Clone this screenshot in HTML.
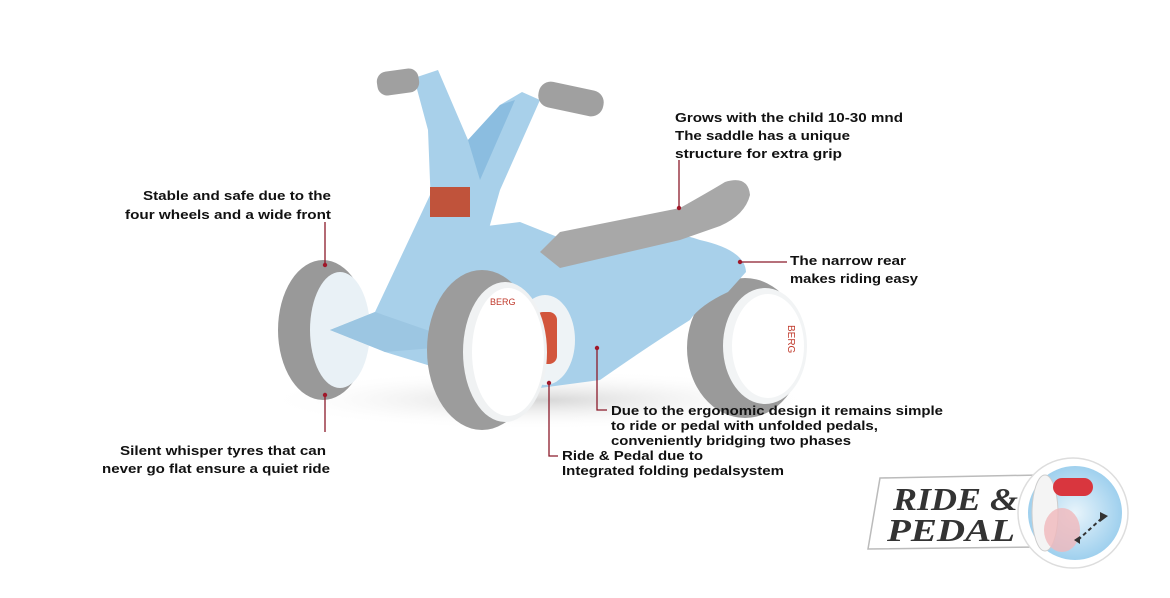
<!DOCTYPE html>
<html><head><meta charset="utf-8"><style>
html,body{margin:0;padding:0;background:#fff;}
svg{display:block}
text{font-family:"Liberation Sans",sans-serif;font-weight:bold;font-size:13px;fill:#111;}
</style></head><body>
<svg width="1170" height="598" viewBox="0 0 1170 598" xmlns="http://www.w3.org/2000/svg">
<defs>
<radialGradient id="sh" cx="50%" cy="50%" r="50%"><stop offset="0" stop-color="#bbb" stop-opacity=".6"/><stop offset="1" stop-color="#fff" stop-opacity="0"/></radialGradient>
<radialGradient id="lb" cx="50%" cy="50%" r="50%"><stop offset="0" stop-color="#e8f4fb"/><stop offset="1" stop-color="#9fd0ee"/></radialGradient>
</defs>
<ellipse cx="540" cy="400" rx="280" ry="30" fill="url(#sh)"/>
<!-- rear wheel -->
<ellipse cx="745" cy="348" rx="58" ry="70" fill="#9a9a9a"/>
<ellipse cx="765" cy="346" rx="42" ry="58" fill="#f2f4f5"/>
<ellipse cx="768" cy="346" rx="36" ry="52" fill="#fff"/>
<text x="0" y="0" transform="translate(788,325) rotate(90)" style="font-size:10px;fill:#c0392b;font-weight:normal">BERG</text>
<!-- left wheel -->
<ellipse cx="323" cy="330" rx="45" ry="70" fill="#999"/>
<ellipse cx="340" cy="330" rx="30" ry="58" fill="#e9f1f6"/>
<!-- body -->
<path d="M330,330 L375,312 L430,195 L470,228 L520,222 L565,240 Q660,225 700,240 Q745,250 746,272 L728,292 Q700,305 690,320 Q650,345 600,380 L540,388 L470,378 L385,352 Z" fill="#a8d0ea"/>
<path d="M330,330 L375,312 L470,345 L385,352 Z" fill="#9cc6e2"/>
<!-- stem -->
<path d="M414,78 L438,70 L468,140 L500,105 L522,92 L540,100 L500,190 L488,232 L432,232 L428,130 Z" fill="#a8d0ea"/>
<path d="M468,140 L500,105 L515,100 L480,180 Z" fill="#8bbde0"/>
<rect x="430" y="187" width="40" height="30" fill="#c0533b"/>
<!-- grips -->
<rect x="377" y="70" width="42" height="24" rx="10" fill="#a0a0a0" transform="rotate(-8 398 82)"/>
<rect x="538" y="86" width="66" height="26" rx="12" fill="#a0a0a0" transform="rotate(12 571 99)"/>
<!-- seat -->
<path d="M540,252 L560,232 L680,208 Q712,190 725,182 Q748,175 750,195 Q745,215 720,226 L680,240 L560,268 Z" fill="#a8a8a8"/>
<!-- pedal hub -->
<ellipse cx="545" cy="340" rx="30" ry="45" fill="#eef3f6"/>
<rect x="535" y="312" width="22" height="52" rx="8" fill="#d2553c"/>
<!-- front right wheel -->
<ellipse cx="482" cy="350" rx="55" ry="80" fill="#9c9c9c"/>
<ellipse cx="505" cy="352" rx="42" ry="70" fill="#f0f2f3"/>
<ellipse cx="508" cy="352" rx="36" ry="64" fill="#fff"/>
<text x="490" y="305" style="font-size:9px;fill:#c0392b;font-weight:normal">BERG</text>
<!-- connectors -->
<g stroke="#8b1a2a" stroke-width="1.3" fill="none">
<path d="M325,222 V265"/>
<path d="M325,395 V432"/>
<path d="M679,160 V208"/>
<path d="M740,262 H787"/>
<path d="M597,348 V410 H607"/>
<path d="M549,383 V456 H558"/>
</g>
<g fill="#a0182a">
<circle cx="325" cy="265" r="2.2"/><circle cx="325" cy="395" r="2.2"/>
<circle cx="679" cy="208" r="2.2"/><circle cx="740" cy="262" r="2.2"/>
<circle cx="597" cy="348" r="2.2"/><circle cx="549" cy="383" r="2.2"/>
</g>
<!-- labels -->
<text x="675" y="122" textLength="228" lengthAdjust="spacingAndGlyphs">Grows with the child 10-30 mnd</text>
<text x="675" y="140" textLength="175" lengthAdjust="spacingAndGlyphs">The saddle has a unique</text>
<text x="675" y="158" textLength="167" lengthAdjust="spacingAndGlyphs">structure for extra grip</text>
<text x="143" y="200" textLength="188" lengthAdjust="spacingAndGlyphs">Stable and safe due to the</text>
<text x="125" y="219" textLength="206" lengthAdjust="spacingAndGlyphs">four wheels and a wide front</text>
<text x="790" y="265" textLength="116" lengthAdjust="spacingAndGlyphs">The narrow rear</text>
<text x="790" y="283" textLength="128" lengthAdjust="spacingAndGlyphs">makes riding easy</text>
<text x="611" y="415" textLength="332" lengthAdjust="spacingAndGlyphs">Due to the ergonomic design it remains simple</text>
<text x="611" y="430" textLength="267" lengthAdjust="spacingAndGlyphs">to ride or pedal with unfolded pedals,</text>
<text x="611" y="445" textLength="240" lengthAdjust="spacingAndGlyphs">conveniently bridging two phases</text>
<text x="562" y="460" textLength="141" lengthAdjust="spacingAndGlyphs">Ride &amp; Pedal due to</text>
<text x="562" y="475" textLength="222" lengthAdjust="spacingAndGlyphs">Integrated folding pedalsystem</text>
<text x="120" y="455" textLength="206" lengthAdjust="spacingAndGlyphs">Silent whisper tyres that can</text>
<text x="102" y="473" textLength="228" lengthAdjust="spacingAndGlyphs">never go flat ensure a quiet ride</text>
<!-- logo -->
<path d="M880,478 L1040,475 L1040,547 L868,549 Z" fill="#fff" stroke="#bbb" stroke-width="1.5"/>
<text x="893" y="510" style="font-family:'Liberation Serif',serif;font-style:italic;font-weight:bold;font-size:32px;fill:#333" textLength="125" lengthAdjust="spacingAndGlyphs">RIDE &amp;</text>
<text x="887" y="541" style="font-family:'Liberation Serif',serif;font-style:italic;font-weight:bold;font-size:32px;fill:#333" textLength="128" lengthAdjust="spacingAndGlyphs">PEDAL</text>
<circle cx="1073" cy="513" r="55" fill="#fff" stroke="#ddd" stroke-width="1.5"/>
<circle cx="1075" cy="513" r="47" fill="url(#lb)"/>
<ellipse cx="1045" cy="513" rx="13" ry="38" fill="#f4f4f4" stroke="#ccc"/>
<ellipse cx="1062" cy="530" rx="18" ry="22" fill="#f0b8bc" opacity=".8"/>
<rect x="1053" y="478" width="40" height="18" rx="9" fill="#d9363e"/>
<path d="M1078,540 L1102,518" stroke="#333" stroke-width="2" stroke-dasharray="4 3"/>
<path d="M1100,512 L1108,516 L1100,522 Z" fill="#333"/>
<path d="M1074,540 L1080,536 L1080,544 Z" fill="#333"/>
</svg>
</body></html>
